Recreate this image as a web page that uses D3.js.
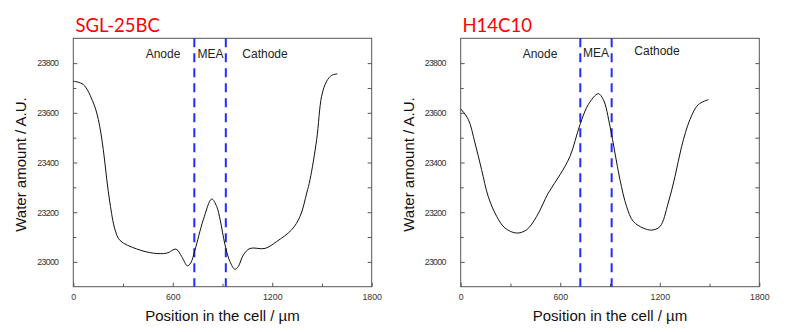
<!DOCTYPE html>
<html><head><meta charset="utf-8">
<script src="https://cdn.jsdelivr.net/npm/d3@7"></script>
<style>body{margin:0;background:#fff}svg{display:block}</style>
</head><body>
<svg id="c" width="786" height="332"></svg>
<script>
const titles = ["SGL-25BC", "H14C10"];
const xTicks = [0, 600, 1200, 1800];
const yTicks = [23000, 23200, 23400, 23600, 23800];
const regionLabels = ["Anode", "MEA", "Cathode"];
const meaBoundsA = [730, 920];
const meaBoundsB = [721, 910];
// SGL-25BC profile
const posA = [0, 60, 121, 151, 181, 201, 221, 252, 282, 382, 483, 563, 620, 654, 688, 708, 734, 784, 835, 865, 886, 915, 945, 975, 995, 1026, 1066, 1156, 1227, 1317, 1368, 1408, 1428, 1468, 1498, 1528, 1559, 1593];
const valA = [23727, 23714, 23640, 23573, 23452, 23337, 23237, 23129, 23086, 23052, 23035, 23035, 23051, 23021, 22984, 22995, 23048, 23169, 23253, 23223, 23169, 23069, 23001, 22970, 22981, 23028, 23054, 23054, 23082, 23129, 23183, 23277, 23331, 23492, 23667, 23727, 23751, 23757];
// H14C10 profile
const posB = [0, 46, 86, 126, 166, 217, 267, 337, 397, 458, 528, 599, 659, 719, 769, 829, 860, 900, 930, 960, 1000, 1040, 1101, 1151, 1201, 1251, 1292, 1332, 1382, 1432, 1493];
const valB = [23616, 23573, 23479, 23371, 23263, 23183, 23136, 23116, 23129, 23183, 23277, 23351, 23425, 23552, 23633, 23677, 23653, 23546, 23438, 23331, 23223, 23163, 23136, 23128, 23142, 23237, 23344, 23465, 23573, 23633, 23653];

const svg = d3.select("#c");
const panels = [
  {left: 73.3, right: 371.7, title: titles[0], xs: posA, ys: valA, mea: meaBoundsA,
   labels: [[163, 58], [210.5, 58], [265, 58]], titleX: 75.5},
  {left: 460.7, right: 759.3, title: titles[1], xs: posB, ys: valB, mea: meaBoundsB,
   labels: [[540, 58], [596, 56.5], [657, 55]], titleX: 462.5}
];
const plotTop = 38.3, plotBottom = 286.7;
const frameCol = "#555";
const sans = "'Liberation Sans', Arial, sans-serif";

panels.forEach(p => {
  const x = d3.scaleLinear().domain([0, 1800]).range([p.left, p.right]);
  const y = d3.scaleLinear().domain([22900, 23900]).range([plotBottom, plotTop]);
  const g = svg.append("g");

  g.append("rect").attr("x", p.left).attr("y", plotTop).attr("width", p.right - p.left).attr("height", plotBottom - plotTop)
    .attr("fill", "none").attr("stroke", frameCol).attr("stroke-width", 1);

  const xa = g.append("g").attr("transform", `translate(0,${plotBottom})`)
    .call(d3.axisBottom(x).tickValues(xTicks).tickSizeInner(-4).tickSizeOuter(0).tickPadding(7).tickFormat(d3.format("d")));
  xa.select(".domain").remove();
  xa.selectAll("line").attr("stroke", frameCol);
  xa.selectAll("text").attr("fill", "#333").style("font-family", sans).style("font-size", "8.8px");
  const xm = g.append("g").attr("transform", `translate(0,${plotBottom})`)
    .call(d3.axisBottom(x).tickValues([300, 900, 1500]).tickSize(-3).tickFormat(""));
  xm.select(".domain").remove();
  xm.selectAll("line").attr("stroke", frameCol);

  const ya = g.append("g").attr("transform", `translate(${p.left},0)`)
    .call(d3.axisLeft(y).tickValues(yTicks).tickSizeInner(-4).tickSizeOuter(0).tickPadding(15).tickFormat(d3.format("d")));
  ya.select(".domain").remove();
  ya.selectAll("line").attr("stroke", frameCol);
  ya.selectAll("text").attr("fill", "#333").style("font-family", sans).style("font-size", "8.8px").style("letter-spacing", "-0.7px");
  const ym = g.append("g").attr("transform", `translate(${p.left},0)`)
    .call(d3.axisLeft(y).tickValues([23100, 23300, 23500, 23700]).tickSize(-3).tickFormat(""));
  ym.select(".domain").remove();
  ym.selectAll("line").attr("stroke", frameCol);
  const yr = g.append("g").attr("transform", `translate(${p.right},0)`)
    .call(d3.axisRight(y).tickValues(d3.range(23000, 23900, 100)).tickSize(-4).tickFormat(""));
  yr.select(".domain").remove();
  yr.selectAll("line").attr("stroke", frameCol);

  p.mea.forEach(v => {
    g.append("line").attr("x1", x(v)).attr("x2", x(v)).attr("y1", plotTop).attr("y2", plotBottom)
      .attr("stroke", "#1f2dff").attr("stroke-width", 2).attr("stroke-dasharray", "9,6");
  });

  const pts = p.xs.map((d, i) => [d, p.ys[i]]);
  g.append("path").datum(pts)
    .attr("d", d3.line().x(d => x(d[0])).y(d => y(d[1])).curve(d3.curveCatmullRom.alpha(0.5)))
    .attr("fill", "none").attr("stroke", "#111").attr("stroke-width", 1);

  regionLabels.forEach((t, i) => {
    g.append("text").attr("x", p.labels[i][0]).attr("y", p.labels[i][1]).attr("text-anchor", "middle")
      .style("font-family", sans).style("font-size", "12px").attr("fill", "#222").text(t);
  });

  g.append("text").attr("x", p.titleX).attr("y", 32).attr("fill", "#ff0000")
    .style("font-family", "Lato, 'Open Sans', sans-serif").style("font-size", "18.5px").text(p.title);

  g.append("text").attr("x", (p.left + p.right) / 2).attr("y", 320.5).attr("text-anchor", "middle")
    .style("font-family", sans).style("font-size", "15px").attr("fill", "#111")
    .text("Position in the cell / µm");
  g.append("text").attr("transform", `translate(${p.left - 47},${(plotTop + plotBottom) / 2 + 2}) rotate(-90)`)
    .attr("text-anchor", "middle")
    .style("font-family", sans).style("font-size", "15px").attr("fill", "#111")
    .text("Water amount / A.U.");
});
</script>
</body></html>
